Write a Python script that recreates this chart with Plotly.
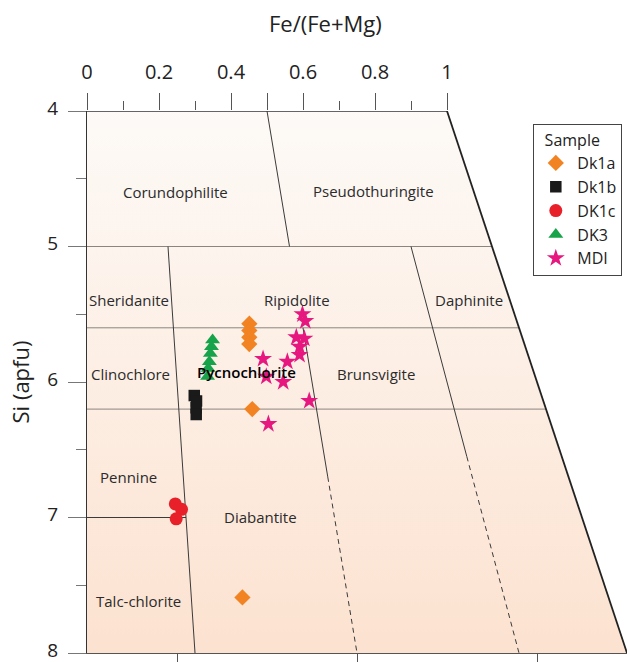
import plotly.graph_objects as go

# ---------------- data ----------------
# Fe/(Fe+Mg) and Si (apfu) for each sample
dk1a_fe = [0.377, 0.375, 0.373, 0.371, 0.360, 0.298]
dk1a_si = [5.57, 5.62, 5.67, 5.72, 6.20, 7.59]
dk1b_fe = [0.236, 0.240, 0.238, 0.237]
dk1b_si = [6.10, 6.14, 6.19, 6.24]
dk1c_fe = [0.180, 0.192, 0.180]
dk1c_si = [6.90, 6.94, 7.01]
dk3_fe = [0.288, 0.284, 0.280, 0.276, 0.272, 0.269]
dk3_si = [5.69, 5.74, 5.79, 5.85, 5.90, 5.96]
mdi_fe = [0.504, 0.508, 0.481, 0.499, 0.485, 0.482, 0.398, 0.452, 0.400, 0.436, 0.487, 0.391]
mdi_si = [5.50, 5.55, 5.67, 5.68, 5.74, 5.80, 5.83, 5.85, 5.96, 6.00, 6.14, 6.31]

# Hey (1954) classification diagram boundaries
field_fe = [0, 1, 1, 0, 0]
field_si = [4, 4, 8, 8, 4]
h_lines_si = [5.0, 5.6, 6.2]
solid_lines = [((0.5, 4.0), (0.5, 5.0)), ((0.2, 5.0), (0.2, 8.0)),
               ((0.5, 5.6), (0.5, 6.7)), ((0.8, 5.0), (0.8, 6.55)),
               ((0.0, 7.0), (0.2, 7.0))]
dashed_lines = [((0.5, 6.7), (0.5, 8.0)), ((0.8, 6.55), (0.8, 8.0))]

field_names = ["Corundophilite", "Pseudothuringite", "Sheridanite", "Ripidolite", "Daphinite",
               "Clinochlore", "Pycnochlorite", "Brunsvigite", "Pennine", "Diabantite", "Talc-chlorite"]

top_ticks = [0, 0.2, 0.4, 0.5, 0.6, 0.8, 1]
top_tick_text = ["0", "0.2", "0.4", "", "0.6", "0.8", "1"]
top_minor = [0.1, 0.3, 0.7, 0.9]
si_ticks = [4, 5, 6, 7, 8]
si_minor = [4.5, 5.5, 6.5, 7.5]
bottom_ticks = [0.25, 0.75, 1.25]


def skew(fe, si):
    """Hey diagram: the Fe/(Fe+Mg) scale widens linearly with Si."""
    return [f * (s + 4) / 8 for f, s in zip(fe, si)]


def seg_xy(segs):
    xs, ys = [], []
    for (f0, s0), (f1, s1) in segs:
        xs += skew([f0, f1], [s0, s1]) + [None]
        ys += [s0, s1, None]
    return xs, ys


fig = go.Figure()

# field background with vertical gradient (base subplot)
fig.add_trace(go.Scatter(
    x=skew(field_fe, field_si), y=field_si, xaxis="x", mode="lines",
    line=dict(width=0), fill="toself",
    fillgradient=dict(type="vertical", start=4, stop=8,
                      colorscale=[[0, "#FDFAF7"], [1, "#FCE2D0"]]),
    showlegend=False, hoverinfo="skip"))

# horizontal boundaries
hx, hy = seg_xy([((0, s), (1, s)) for s in h_lines_si])
fig.add_trace(go.Scatter(x=hx, y=hy, xaxis="x2", mode="lines", line=dict(color="#8a8580", width=1),
                         showlegend=False, hoverinfo="skip"))
sx, sy = seg_xy(solid_lines)
fig.add_trace(go.Scatter(x=sx, y=sy, xaxis="x2", mode="lines", line=dict(color="#3a3a3a", width=1),
                         showlegend=False, hoverinfo="skip"))
dx, dy = seg_xy(dashed_lines)
fig.add_trace(go.Scatter(x=dx, y=dy, xaxis="x2", mode="lines",
                         line=dict(color="#3a3a3a", width=1, dash="5px,4px"),
                         showlegend=False, hoverinfo="skip"))
# top edge and right edge
ox, oy = seg_xy([((0, 4), (1, 4))])
fig.add_trace(go.Scatter(x=ox, y=oy, xaxis="x2", mode="lines", line=dict(color="#333333", width=1.3),
                         showlegend=False, hoverinfo="skip"))
rx, ry = seg_xy([((1, 4), (1, 8))])
fig.add_trace(go.Scatter(x=rx, y=ry, xaxis="x2", mode="lines", line=dict(color="#222222", width=1.8),
                         showlegend=False, hoverinfo="skip"))

# samples
samples = [
    ("Dk1a", dk1a_fe, dk1a_si, "diamond", "#F28322", 12.5),
    ("Dk1b", dk1b_fe, dk1b_si, "square", "#1a1a1a", 11.5),
    ("DK1c", dk1c_fe, dk1c_si, "circle", "#E8202A", 13),
    ("DK3", dk3_fe, dk3_si, "triangle-up", "#17A34A", 13),
    ("MDI", mdi_fe, mdi_si, "star", "#E6187F", 13.5),
]
for name, fe, si, sym, col, sz in samples:
    fig.add_trace(go.Scatter(x=skew(fe, si), y=si, xaxis="x2", mode="markers", name=name,
                             marker=dict(symbol=sym, color=col, size=sz, line=dict(width=0))))

# field labels (positions in plot coordinates)
label_x = [0.245, 0.796, 0.116, 0.584, 1.062, 0.122, 0.4425, 0.804, 0.114, 0.481, 0.143]
label_y = [4.596, 4.593, 5.397, 5.397, 5.392, 5.938, 5.926, 5.938, 6.701, 6.996, 7.616]
for name, lx, ly in zip(field_names, label_x, label_y):
    bold = name == "Pycnochlorite"
    fig.add_annotation(x=lx, y=ly, xref="x2", yref="y", text=name, showarrow=False,
                       font=dict(family="Open Sans", size=15,
                                 color="#000000" if bold else "#2b2b2b",
                                 weight=600 if bold else 400))

# top axis title
fig.add_annotation(xref="paper", yref="paper", x=0.3333, y=1.162, yanchor="middle",
                   text="Fe/(Fe+Mg)", showarrow=False,
                   font=dict(family="Open Sans", size=22, color="#222"))

fig.update_layout(
    width=630, height=662,
    margin=dict(l=87, r=3, t=111, b=9, autoexpand=False),
    paper_bgcolor="white", plot_bgcolor="white",
    font=dict(family="Open Sans", color="#222"),
    xaxis=dict(range=[0, 1.5], side="bottom", tickmode="array", tickvals=bottom_ticks,
               showticklabels=False, ticks="outside", ticklen=9, tickcolor="#555",
               showline=True, linecolor="#555", linewidth=1.2, showgrid=False, zeroline=False),
    xaxis2=dict(range=[0, 1.5], overlaying="x", side="top", anchor="y",
                tickmode="array", tickvals=top_ticks, ticktext=top_tick_text,
                ticks="outside", ticklen=17, tickcolor="#555", tickwidth=1,
                minor=dict(tickvals=top_minor, ticks="outside", ticklen=9, tickcolor="#555"),
                ticklabelstandoff=6, tickfont=dict(size=20, color="#222"),
                showline=False, showgrid=False, zeroline=False),
    yaxis=dict(range=[8, 4], tickmode="array", tickvals=si_ticks, ticks="outside",
               ticklen=18, tickcolor="#777", tickwidth=1,
               minor=dict(tickvals=si_minor, ticks="outside", ticklen=10, tickcolor="#777"),
               ticklabelstandoff=6, ticklabelshift=3, ticklabeloverflow="allow",
               tickfont=dict(size=19, color="#222"),
               showline=True, linecolor="#333", linewidth=1.3, showgrid=False, zeroline=False,
               title=dict(text="Si (apfu)", font=dict(size=22, color="#222"), standoff=11)),
    legend=dict(x=0.8265, y=0.9755, xanchor="left", yanchor="top",
                bgcolor="white", bordercolor="#444", borderwidth=1,
                font=dict(size=16, color="#222"),
                title=dict(text="\u00a0\u00a0Sample", font=dict(size=16)),
                itemwidth=33, tracegroupgap=0),
)

fig.write_html("out.html", config={"displayModeBar": False},
               post_script="document.body.style.margin='0';")
